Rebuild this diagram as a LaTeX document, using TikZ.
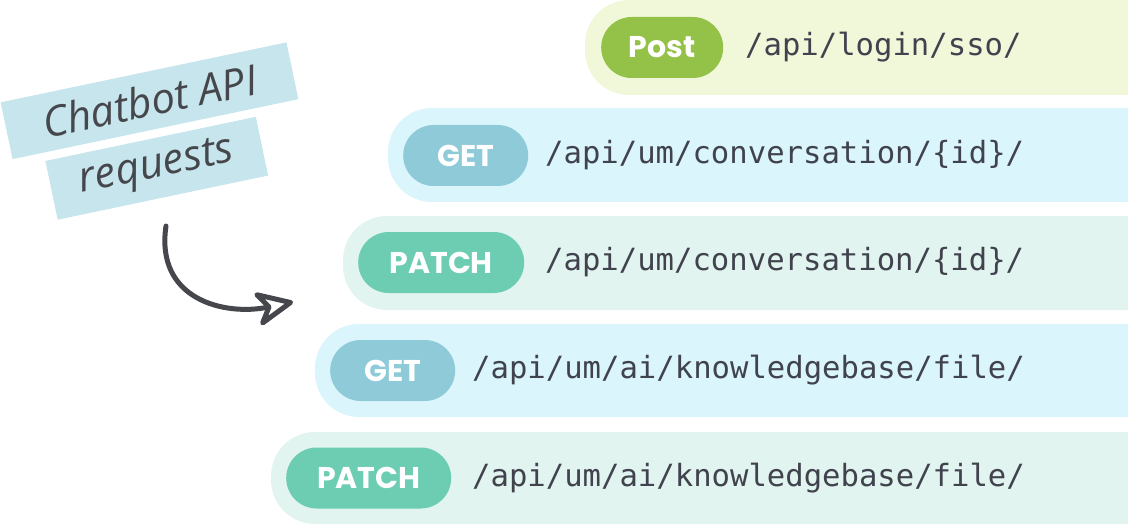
\documentclass[tikz,border=0pt]{standalone}
\usepackage{fontspec}
\setmainfont{Poppins}
\setmonofont{DejaVu Sans Mono}
\newfontfamily\handfont{Open Sans}
\usepackage{tikz}
\usetikzlibrary{arrows.meta,shapes.misc}

\definecolor{postband}{HTML}{F1F8D9}
\definecolor{postpill}{HTML}{94C249}
\definecolor{getband}{HTML}{DAF5FB}
\definecolor{getpill}{HTML}{8ECAD8}
\definecolor{patchband}{HTML}{E2F4EF}
\definecolor{patchpill}{HTML}{6CCDB3}
\definecolor{urltext}{HTML}{40434E}
\definecolor{notebg}{HTML}{C6E5EC}
\definecolor{inkgray}{HTML}{46474C}

\tikzset{
  pill/.style={rounded rectangle,minimum height=61pt,inner sep=0pt,anchor=west,text=white,font=\fontsize{30}{34}\selectfont\bfseries},
  url/.style={anchor=west,inner sep=0pt,text=urltext,font=\fontsize{30.6}{36}\selectfont\ttfamily},
  note/.style={fill=notebg,rotate=11.85,inner sep=0pt,text=inkgray,font=\fontsize{42}{48}\selectfont\handfont\itshape}
}

\begin{document}
\begin{tikzpicture}[x=1pt,y=-1pt]

\useasboundingbox (0,0) rectangle (1128,524);

\begin{scope}
\clip (0,0) rectangle (1128,524);
\fill[postband,rounded corners=44pt] (585,0) rectangle (1180,95);
\fill[getband,rounded corners=44pt] (388,108) rectangle (1180,202);
\fill[patchband,rounded corners=44pt] (343,216) rectangle (1180,310);
\fill[getband,rounded corners=44pt] (315,324) rectangle (1180,417);
\fill[patchband,rounded corners=44pt] (271,432) rectangle (1180,524);
\end{scope}

\node[pill,fill=postpill,minimum width=122pt] (post) at (601,47.5) {Post};
\node[url] (ssourl) at (745,47.5) {/api/login/sso/};

\node[pill,fill=getpill,minimum width=125pt] (getconv) at (403,155.5) {GET};
\node[url] (getconvurl) at (545,155.5) {/api/um/conversation/\{id\}/};

\node[pill,fill=patchpill,minimum width=166pt] (patchconv) at (358,262.5) {PATCH};
\node[url] (patchconvurl) at (545,262.5) {/api/um/conversation/\{id\}/};

\node[pill,fill=getpill,minimum width=125pt] (getfile) at (330,370.5) {GET};
\node[url] (getfileurl) at (472,370.5) {/api/um/ai/knowledgebase/file/};

\node[pill,fill=patchpill,minimum width=165pt] (patchfile) at (286,478) {PATCH};
\node[url] (patchfileurl) at (472,478) {/api/um/ai/knowledgebase/file/};

\node[note,minimum width=292pt,minimum height=58pt] (chatbot) at (149.5,100.75) {Chatbot API};
\node[note,minimum width=215pt,minimum height=60pt] (requests) at (156.75,168.25) {requests};

\coordinate (arrowstart) at (166,226);
\coordinate (arrowend) at (293,302);

\draw[inkgray,line width=5pt,line cap=round,-{Stealth[open,round,length=44pt,width=40pt,inset=13pt]}] (arrowstart) .. controls (155,300) and (225,316) .. (arrowend);

\end{tikzpicture}
\end{document}
